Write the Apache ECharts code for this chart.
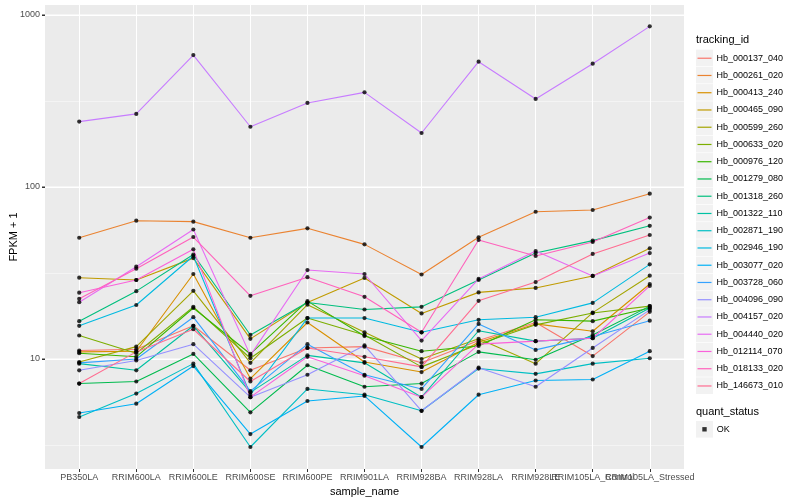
<!DOCTYPE html>
<html><head><meta charset="utf-8">
<script src="https://cdn.jsdelivr.net/npm/echarts@6/dist/echarts.min.js"></script>
<style>html,body{margin:0;padding:0;background:#fff}#c{width:800px;height:500px}</style>
</head><body><div id="c"></div>
<script>
const categories = ['PB350LA','RRIM600LA','RRIM600LE','RRIM600SE','RRIM600PE','RRIM901LA','RRIM928BA','RRIM928LA','RRIM928LE','RRIM105LA_Control','RRIM105LA_Stressed'];
const yTickValues = [10, 100, 1000];
const yMinorValues = [3.162, 31.62, 316.2];

const Hb_000137_040 = [11.2, 11.4, 15.6, 8.6, 11.6, 11.8, 9.5, 12.8, 16.3, 10.4, 18.8];
const Hb_000261_020 = [50.7, 63.7, 62.9, 50.7, 57.5, 46.4, 31.0, 51.0, 71.8, 73.5, 91.4];
const Hb_000413_240 = [11.0, 11.1, 31.2, 7.7, 16.3, 9.6, 8.4, 12.5, 16.0, 14.5, 27.3];
const Hb_000465_090 = [29.7, 28.8, 38.6, 13.1, 21.3, 29.6, 18.4, 24.4, 25.9, 30.4, 44.0];
const Hb_000599_260 = [9.6, 11.8, 24.9, 9.5, 20.7, 14.3, 10.0, 13.1, 9.4, 18.6, 30.5];
const Hb_000633_020 = [13.7, 10.8, 20.1, 10.1, 17.3, 13.8, 9.0, 12.2, 15.8, 18.5, 20.3];
const Hb_000976_120 = [10.8, 10.3, 19.8, 10.7, 21.7, 13.6, 11.1, 11.9, 16.9, 16.6, 19.8];
const Hb_001279_080 = [7.2, 7.4, 10.7, 4.9, 9.2, 6.9, 7.2, 11.0, 9.9, 13.8, 20.3];
const Hb_001318_260 = [16.6, 24.8, 40.5, 13.8, 21.3, 19.4, 20.1, 28.8, 41.3, 48.8, 59.5];
const Hb_001322_110 = [9.4, 8.6, 15.6, 6.4, 10.5, 9.5, 6.0, 14.6, 12.7, 13.2, 19.8];
const Hb_002871_190 = [4.6, 6.3, 9.4, 3.08, 6.7, 6.2, 5.0, 8.8, 8.2, 9.4, 10.1];
const Hb_002946_190 = [15.6, 20.6, 39.7, 6.2, 17.3, 17.3, 14.3, 16.9, 17.5, 21.2, 35.5];
const Hb_003077_020 = [4.85, 5.5, 9.1, 3.66, 5.7, 6.1, 3.08, 6.2, 7.5, 7.6, 11.1];
const Hb_003728_060 = [9.5, 10.0, 17.5, 6.5, 12.2, 8.1, 6.7, 16.0, 11.3, 13.5, 16.7];
const Hb_004096_090 = [8.6, 9.8, 12.2, 6.0, 8.1, 12.0, 5.0, 8.9, 6.9, 11.6, 19.3];
const Hb_004157_020 = [240, 266, 585, 224, 308, 355, 206, 535, 325, 521, 859];
const Hb_004440_020 = [21.4, 34.4, 56.6, 10.5, 32.9, 31.2, 12.8, 29.2, 42.4, 30.4, 41.3];
const Hb_012114_070 = [24.3, 28.8, 43.4, 6.0, 10.3, 8.0, 6.0, 12.2, 12.7, 13.2, 26.6];
const Hb_018133_020 = [22.4, 33.5, 51.2, 23.3, 29.9, 23.0, 14.3, 49.2, 39.7, 47.9, 66.4];
const Hb_146673_010 = [7.2, 11.0, 14.9, 7.4, 11.6, 10.3, 9.0, 21.8, 28.0, 40.8, 52.6];

const trackingIds = ['Hb_000137_040','Hb_000261_020','Hb_000413_240','Hb_000465_090','Hb_000599_260','Hb_000633_020','Hb_000976_120','Hb_001279_080','Hb_001318_260','Hb_001322_110','Hb_002871_190','Hb_002946_190','Hb_003077_020','Hb_003728_060','Hb_004096_090','Hb_004157_020','Hb_004440_020','Hb_012114_070','Hb_018133_020','Hb_146673_010'];
const seriesValues = [Hb_000137_040,Hb_000261_020,Hb_000413_240,Hb_000465_090,Hb_000599_260,Hb_000633_020,Hb_000976_120,Hb_001279_080,Hb_001318_260,Hb_001322_110,Hb_002871_190,Hb_002946_190,Hb_003077_020,Hb_003728_060,Hb_004096_090,Hb_004157_020,Hb_004440_020,Hb_012114_070,Hb_018133_020,Hb_146673_010];
const palette = ['#F8766D','#EA8331','#D89000','#C09B00','#A3A500','#7CAE00','#39B600','#00BB4E','#00BF7D','#00C1A3','#00BFC4','#00BAE0','#00B0F6','#35A2FF','#9590FF','#C77CFF','#E76BF3','#FA62DB','#FF62BC','#FF6C91'];
const quantStatus = 'OK';

const FONT = '"Liberation Sans", Arial, sans-serif';
const chart = echarts.init(document.getElementById('c'), null, {renderer: 'canvas'});

const Y_MIN = 2.294, Y_MAX = 1143, X_MIN = -0.6, X_MAX = 10.6;
const GRID = {left: 45, right: 116, top: 5, bottom: 31};
const catIdx = categories.map((c, i) => i);

const series = trackingIds.map((id, k) => ({
  name: id, type: 'line', symbol: 'none', xAxisIndex: 0, yAxisIndex: 0,
  color: palette[k], itemStyle: {color: palette[k]}, lineStyle: {color: palette[k], width: 1.1},
  data: seriesValues[k].map((v, i) => [i, v]), z: 3
}));
const allPoints = [];
seriesValues.forEach(arr => arr.forEach((v, i) => allPoints.push([i, v])));
series.push({
  name: quantStatus, type: 'scatter', symbol: 'circle', symbolSize: 4.2, xAxisIndex: 0, yAxisIndex: 0,
  itemStyle: {color: '#000'}, color: '#000', data: allPoints, z: 5
});

const axisText = {fontFamily: FONT, fontSize: 9, color: '#4d4d4d'};
const xAxisFor = (idxs, extra) => Object.assign({
  type: 'value', min: X_MIN, max: X_MAX, position: 'bottom',
  axisLine: {show: false, onZero: false},
  axisTick: {show: true, length: 3, customValues: idxs, lineStyle: {color: '#333', width: 1}},
  axisLabel: Object.assign({customValues: idxs, formatter: v => categories[Math.round(v)], margin: 4,
                            hideOverlap: false, showMinLabel: true, showMaxLabel: true}, axisText),
  splitLine: {show: true, lineStyle: {color: '#ffffff', width: 1.07}}
}, extra || {});

chart.setOption({
  animation: false,
  backgroundColor: '#fff',
  grid: Object.assign({show: true, backgroundColor: '#ebebeb', borderWidth: 0, containLabel: false, outerBoundsMode: 'none'}, GRID),
  title: [
    {text: 'tracking_id', left: 696, top: 34.5, padding: 0, textStyle: {fontFamily: FONT, fontSize: 11, fontWeight: 'normal', color: '#000'}},
    {text: 'quant_status', left: 696, top: 406, padding: 0, textStyle: {fontFamily: FONT, fontSize: 11, fontWeight: 'normal', color: '#000'}}
  ],
  legend: [
    {data: trackingIds, orient: 'vertical', left: 697.5, top: 49.6, itemWidth: 14, itemHeight: 1.2, itemGap: 0,
     padding: 0, selectedMode: false, icon: 'rect',
     textStyle: {fontFamily: FONT, fontSize: 9, color: '#000', lineHeight: 17.25}},
    {data: [quantStatus], orient: 'vertical', left: 702.3, top: 421, itemWidth: 4.4, itemHeight: 4.4, itemGap: 0,
     padding: 0, selectedMode: false, icon: 'rect',
     textStyle: {fontFamily: FONT, fontSize: 9, color: '#000', lineHeight: 16.6, padding: [0, 0, 0, 5]}}
  ],
  xAxis: [
    xAxisFor(catIdx.filter(i => i % 2 === 0), {name: 'sample_name', nameLocation: 'middle', nameGap: 13,
      nameTextStyle: {fontFamily: FONT, fontSize: 11, color: '#000'}}),
    xAxisFor(catIdx.filter(i => i % 2 === 1))
  ],
  yAxis: [
    {type: 'log', logBase: 10, min: Y_MIN, max: Y_MAX, position: 'left',
     name: 'FPKM + 1', nameLocation: 'middle', nameGap: 25.5, nameRotate: 90, nameMoveOverlap: false,
     nameTextStyle: {fontFamily: FONT, fontSize: 11, color: '#000'},
     axisLine: {show: false, onZero: false},
     axisTick: {show: true, length: 3, customValues: yTickValues, lineStyle: {color: '#333', width: 1}},
     axisLabel: Object.assign({customValues: yTickValues, margin: 5, showMinLabel: true, showMaxLabel: true,
                 formatter: v => String(Math.round(v))}, axisText),
     splitLine: {show: true, lineStyle: {color: '#ffffff', width: 1.07}}
    },
    {type: 'value', min: Math.log10(Y_MIN), max: Math.log10(Y_MAX), position: 'left',
     axisLine: {show: false, onZero: false},
     axisTick: {show: false, customValues: yMinorValues.map(v => Math.log10(v))},
     axisLabel: {show: false, customValues: yMinorValues.map(v => Math.log10(v))},
     splitLine: {show: true, lineStyle: {color: '#fafafa', width: 0.6}}
    }
  ],
  series: series
});

// legend key backgrounds + major gridlines / y ticks positioned through the y scale
const x0 = GRID.left, x1 = 800 - GRID.right;
const graphics = trackingIds.map((id, i) => ({
  type: 'rect', shape: {x: 696, y: 49.6 + i * 17.25, width: 17, height: 16.6}, style: {fill: '#f2f2f2'}, silent: true, z: 0
}));
graphics.push({type: 'rect', shape: {x: 696, y: 421, width: 17, height: 16.6}, style: {fill: '#f2f2f2'}, silent: true, z: 0});
yTickValues.forEach(v => {
  const y = chart.convertToPixel({yAxisIndex: 0}, v);
  graphics.push({type: 'line', shape: {x1: x0, y1: y, x2: x1, y2: y}, style: {stroke: '#ffffff', lineWidth: 1.07}, silent: true, z: 1});
  graphics.push({type: 'line', shape: {x1: x0 - 3, y1: y, x2: x0, y2: y}, style: {stroke: '#333333', lineWidth: 1}, silent: true, z: 1});
});
chart.setOption({graphic: graphics});
</script>
</body></html>
